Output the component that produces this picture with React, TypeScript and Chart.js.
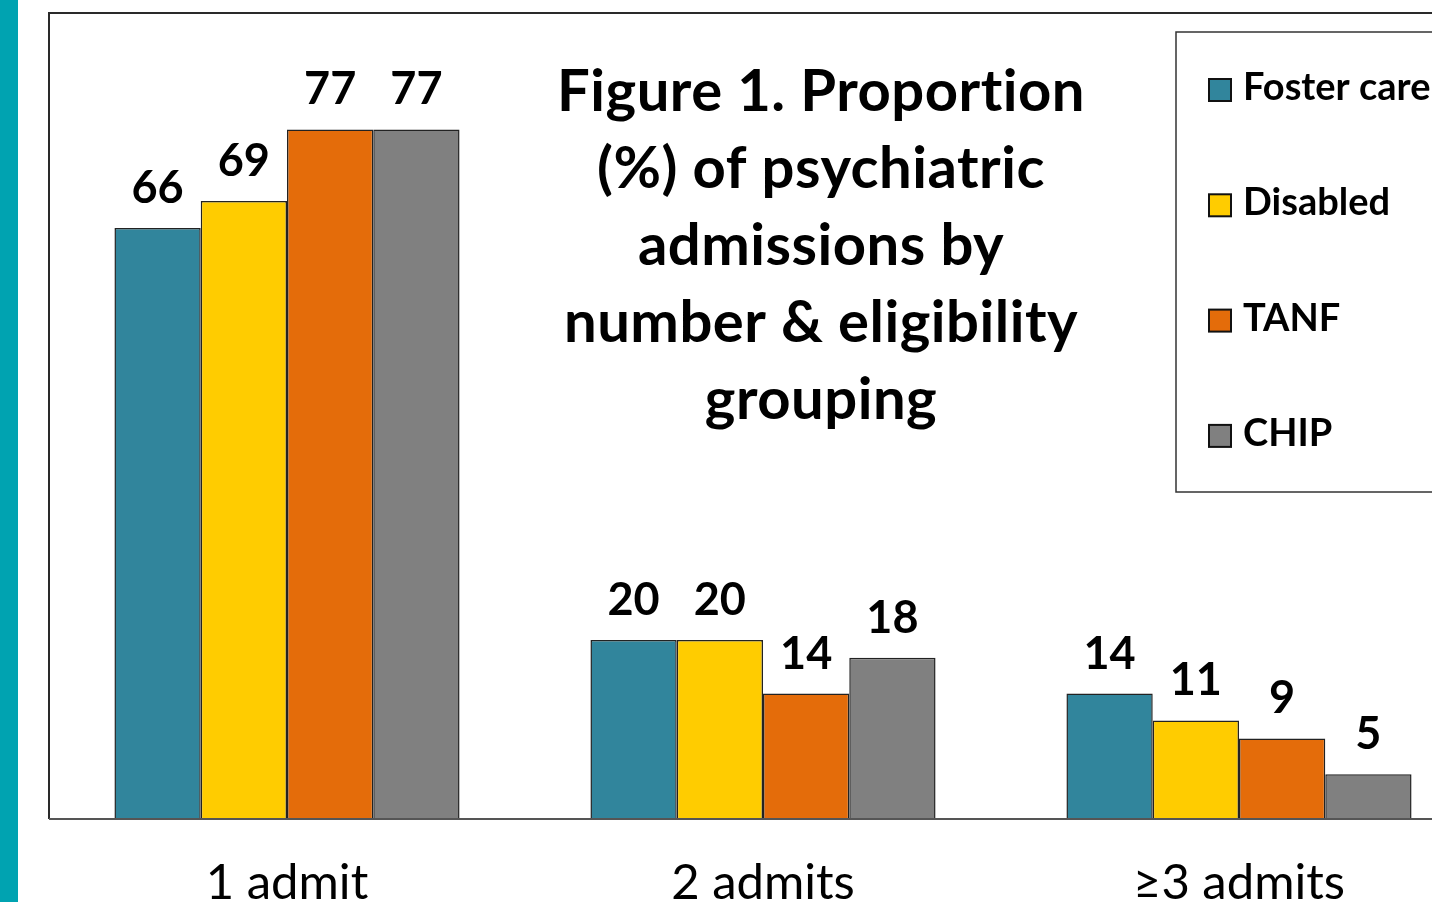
import React, { useEffect, useRef } from "react";
import { Chart, registerables } from "chart.js";

Chart.register(...registerables);

const categories = ["1 admit", "2 admits", "≥3 admits"];
const seriesNames = ["Foster care", "Disabled", "TANF", "CHIP"];
const fosterCare = [66, 20, 14];
const disabled = [69, 20, 11];
const tanf = [77, 14, 9];
const chip = [77, 18, 5];
const seriesColors = ["#31859C", "#FFCC00", "#E46C0A", "#808080"];
const titleLines = [
  "Figure 1. Proportion",
  "(%) of psychiatric",
  "admissions by",
  "number & eligibility",
  "grouping",
];

const FONT = "Lato, 'Open Sans', 'DejaVu Sans', sans-serif";

const overlayPlugin = {
  id: "overlay",
  afterDatasetsDraw(chart: any) {
    const ctx = chart.ctx;
    const area = chart.chartArea;
    ctx.save();

    // Plot frame
    ctx.strokeStyle = "#2a2a2a";
    ctx.lineWidth = 2;
    ctx.beginPath();
    ctx.moveTo(area.left, area.bottom);
    ctx.lineTo(area.left, area.top);
    ctx.lineTo(area.right, area.top);
    ctx.stroke();
    ctx.strokeStyle = "#555";
    ctx.beginPath();
    ctx.moveTo(area.left, area.bottom);
    ctx.lineTo(area.right, area.bottom);
    ctx.stroke();

    // Data labels
    ctx.fillStyle = "#000";
    ctx.font = `bold 45px ${FONT}`;
    ctx.textAlign = "center";
    ctx.textBaseline = "alphabetic";
    chart.data.datasets.forEach((ds: any, di: number) => {
      const meta = chart.getDatasetMeta(di);
      meta.data.forEach((bar: any, i: number) => {
        ctx.fillText(String(ds.data[i]), bar.x, bar.y - 25);
      });
    });

    // Category labels
    const xScale = chart.scales.x;
    ctx.font = `49px ${FONT}`;
    categories.forEach((c, i) => {
      ctx.fillText(c, xScale.getPixelForValue(i), 899);
    });

    // Title (letter spacing also disables the "ti" ligature)
    ctx.font = `bold 58px ${FONT}`;
    try {
      ctx.letterSpacing = "0.5px";
    } catch (e) {}
    titleLines.forEach((line, i) => {
      ctx.fillText(line, 821, 111 + i * 77);
    });
    try {
      ctx.letterSpacing = "0px";
    } catch (e) {}

    // Legend box
    ctx.strokeStyle = "#333";
    ctx.lineWidth = 1.5;
    ctx.strokeRect(1176, 32, 400, 460);
    ctx.font = `bold 38px ${FONT}`;
    ctx.textAlign = "left";
    seriesNames.forEach((name, i) => {
      const base = 100 + i * 115.3;
      ctx.fillStyle = seriesColors[i];
      ctx.fillRect(1209, base - 21, 22, 22);
      ctx.strokeStyle = "#111";
      ctx.lineWidth = 2;
      ctx.strokeRect(1209, base - 21, 22, 22);
      ctx.fillStyle = "#000";
      ctx.fillText(name, 1243, base);
    });

    ctx.restore();
  },
};

export default function App() {
  const ref = useRef<HTMLCanvasElement>(null);
  useEffect(() => {
    if (!ref.current) return;
    const values = [fosterCare, disabled, tanf, chip];
    const chart = new Chart(ref.current, {
      type: "bar",
      data: {
        labels: categories,
        datasets: seriesNames.map((n, i) => ({
          label: n,
          data: values[i],
          backgroundColor: seriesColors[i],
          borderColor: "#222",
          borderWidth: 1.5,
          categoryPercentage: 0.725,
          barPercentage: 1,
        })),
      },
      options: {
        responsive: false,
        animation: false,
        layout: { padding: { left: 49, top: 13, right: 23, bottom: 83 } },
        plugins: {
          legend: { display: false },
          tooltip: { enabled: false },
          title: { display: false },
        },
        scales: {
          x: { display: false },
          y: { display: false, min: 0, max: 90 },
        },
      },
      plugins: [overlayPlugin],
    });
    return () => chart.destroy();
  }, []);

  return (
    <div
      style={{
        position: "fixed",
        left: 0,
        top: 0,
        width: 1432,
        height: 902,
        overflow: "hidden",
        background: "#fff",
      }}
    >
      <div
        style={{
          position: "absolute",
          left: 0,
          top: 0,
          width: 18,
          height: 902,
          background: "#00A3B1",
          zIndex: 2,
        }}
      />
      <canvas
        ref={ref}
        width={1500}
        height={902}
        style={{ position: "absolute", left: 0, top: 0, width: 1500, height: 902 }}
      />
    </div>
  );
}
